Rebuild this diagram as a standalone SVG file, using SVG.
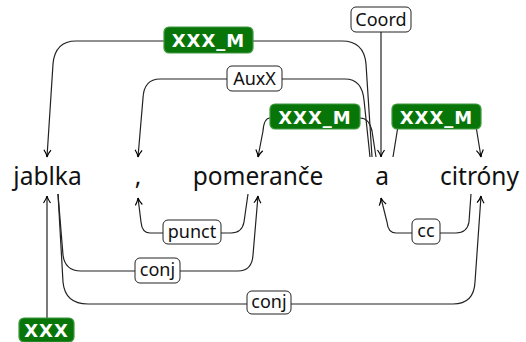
<svg xmlns="http://www.w3.org/2000/svg" width="526" height="342" viewBox="0 0 526 342">
<style>
.w{font-family:"Noto Sans","DejaVu Sans",sans-serif;font-size:24.5px;fill:#111;text-anchor:middle}
.e{fill:none;stroke:#222;stroke-width:1.2}
.lb rect{fill:#fff;stroke:#222;stroke-width:1}
.lb text{font-family:"Noto Sans","DejaVu Sans",sans-serif;font-size:18px;fill:#111;text-anchor:middle}
.g rect{fill:#087508;stroke:#3f9a3f;stroke-width:1.2}
.g text{font-family:"DejaVu Sans",sans-serif;font-weight:bold;font-size:18px;letter-spacing:1px;fill:#fff;text-anchor:middle}
</style>
<defs>
<marker id="ah" viewBox="-9 -5 11 10" markerWidth="11" markerHeight="10" refX="0" refY="0" orient="auto" markerUnits="userSpaceOnUse">
<path d="M-7,-3.5 Q-3,-0.6 0,0 Q-3,0.6 -7,3.5" fill="none" stroke="#000" stroke-width="1.2"/>
</marker>
</defs>
<g id="connectors">
<path class="e" d="M372,157 L366,64 Q364,41 342,41 L76,41 Q55,41 53,64 L47,157" marker-end="url(#ah)"/>
<path class="e" d="M370,157 L364,100 Q362,79 345,79 L160,79 Q144,79 143,98 L138,157" marker-end="url(#ah)"/>
<path class="e" d="M381,32 L381,157" marker-end="url(#ah)"/>
<path class="e" d="M376,157 L372,131 Q369,118 360,118 L270,118 Q264,118 263,131 L258,157" marker-end="url(#ah)"/>
<path class="e" d="M393,157 L399,120 L475,120 L481,157" marker-end="url(#ah)"/>
<path class="e" d="M248,194 L244,222 Q242,233 231,233 L150,233 Q142,233 141,222 L138,198" marker-end="url(#ah)"/>
<path class="e" d="M58,194 L63,255 Q65,271 81,271 L238,271 Q252,271 253,255 L258,196" marker-end="url(#ah)"/>
<path class="e" d="M58,194 L63,282 Q65,304 88,304 L453,304 Q474,304 475,282 L481,196" marker-end="url(#ah)"/>
<path class="e" d="M471,194 L469,222 Q467,233 456,233 L396,233 Q388,233 387,222 L381,198" marker-end="url(#ah)"/>
<path class="e" d="M47,318 L47,196" marker-end="url(#ah)"/>
</g>
<g id="n-jablka"><text class="w" x="47.5" y="185">jablka</text></g>
<g id="n-comma"><text class="w" x="138" y="185">,</text></g>
<g id="n-pomerance"><text class="w" x="258" y="185">pomeranče</text></g>
<g id="n-a"><text class="w" x="382" y="185">a</text></g>
<g id="n-citrony"><text class="w" x="479.5" y="185">citróny</text></g>
<g id="l-xxxm-top" class="g"><rect x="164" y="27" width="89" height="26" rx="5"/><text x="208.5" y="47">XXX_M</text></g>
<g id="l-auxx" class="lb"><rect x="227" y="66" width="55" height="25" rx="5"/><text x="254.5" y="85">AuxX</text></g>
<g id="l-coord" class="lb"><rect x="351" y="7" width="60" height="25" rx="5"/><text x="381" y="26">Coord</text></g>
<g id="l-xxxm-mid" class="g"><rect x="270" y="104" width="90" height="25" rx="5"/><text x="315" y="123.5">XXX_M</text></g>
<g id="l-xxxm-right" class="g"><rect x="392" y="104" width="89" height="25" rx="5"/><text x="436.5" y="123.5">XXX_M</text></g>
<g id="l-punct" class="lb"><rect x="163" y="220" width="58" height="24" rx="5"/><text x="192" y="238">punct</text></g>
<g id="l-conj1" class="lb"><rect x="135" y="258" width="45" height="25" rx="5"/><text x="157.5" y="276">conj</text></g>
<g id="l-conj2" class="lb"><rect x="247" y="291" width="44" height="23" rx="5"/><text x="269" y="308">conj</text></g>
<g id="l-cc" class="lb"><rect x="412" y="219" width="28" height="25" rx="5"/><text x="426" y="237">cc</text></g>
<g id="l-xxx" class="g"><rect x="19" y="318" width="55" height="24" rx="5"/><text x="46.5" y="337">XXX</text></g>
</svg>
